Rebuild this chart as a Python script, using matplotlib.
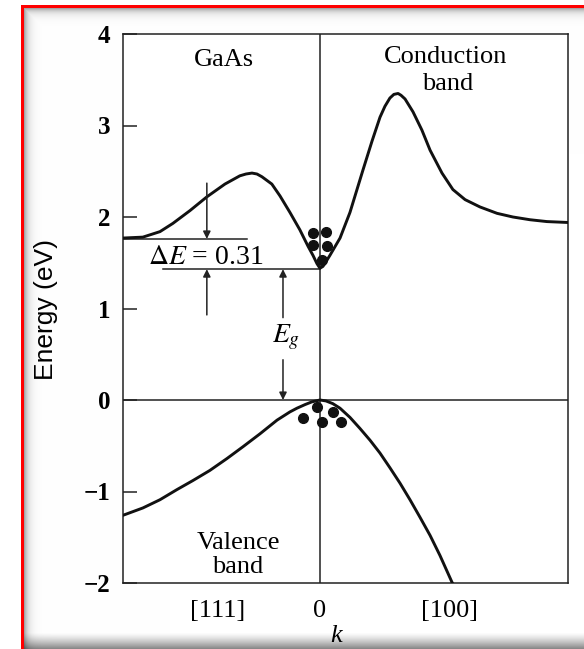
import numpy as np
import matplotlib
matplotlib.use("Agg")
import matplotlib.pyplot as plt

plt.rcParams['font.family'] = ['Liberation Serif', 'DejaVu Serif']
plt.rcParams['mathtext.fontset'] = 'stix'

# ---------------- data ----------------
# k in arbitrary units: left edge = [111] side, right edge = [100] side
cond_k = [-0.794, -0.714, -0.645, -0.593, -0.524, -0.456, -0.383, -0.323, -0.298,
          -0.274, -0.254, -0.234, -0.194, -0.161, -0.121, -0.081, -0.048, -0.028,
          -0.012, 0.0, 0.012,
          0.024, 0.040, 0.081, 0.121, 0.173, 0.210, 0.242, 0.262, 0.282, 0.298,
          0.315, 0.327, 0.343, 0.359,
          0.375, 0.411, 0.444, 0.492, 0.536, 0.585, 0.645, 0.714, 0.778, 0.847,
          0.915, 1.0]
cond_E = [1.77, 1.78, 1.84, 1.93, 2.07, 2.22, 2.36, 2.45, 2.47,
          2.48, 2.47, 2.44, 2.36, 2.23, 2.05, 1.86, 1.68, 1.58,
          1.49, 1.44, 1.46,
          1.51, 1.58, 1.77, 2.05, 2.51, 2.83, 3.09, 3.21, 3.30, 3.34,
          3.35, 3.33, 3.29, 3.22,
          3.15, 2.95, 2.73, 2.48, 2.30, 2.19, 2.11, 2.04, 2.00, 1.97,
          1.95, 1.94]

val_k = [-0.794, -0.714, -0.645, -0.577, -0.512, -0.444, -0.375, -0.310, -0.242,
         -0.173, -0.121, -0.093, -0.060, -0.032, 0.0,
         0.024, 0.052, 0.081, 0.121, 0.161, 0.202, 0.242, 0.282, 0.323, 0.363,
         0.403, 0.444, 0.484, 0.532, 0.544]
val_E = [-1.26, -1.18, -1.09, -0.98, -0.88, -0.77, -0.64, -0.51, -0.37,
         -0.22, -0.13, -0.09, -0.05, -0.02, 0.0,
         -0.01, -0.04, -0.09, -0.19, -0.31, -0.44, -0.58, -0.74, -0.91, -1.09,
         -1.28, -1.48, -1.70, -1.99, -2.05]

electron_k = [-0.028, 0.024, -0.028, 0.028, 0.008]
electron_E = [1.83, 1.84, 1.69, 1.68, 1.53]
hole_k = [-0.069, -0.012, 0.008, 0.052, 0.085]
hole_E = [-0.20, -0.08, -0.24, -0.13, -0.24]

E_gap = 1.43          # conduction band minimum at k = 0
E_L = 1.76            # side valley level
delta_E_text = r'$\Delta E$ = 0.31'

y_ticks = [4, 3, 2, 1, 0, -1, -2]
y_ticklabels = ['4', '3', '2', '1', '0', '\u22121', '\u22122']
x_ticks = [-0.411, 0.0, 0.524]
x_ticklabels = ['[111]', '0', '[100]']

# ---------------- figure ----------------
W, H = 584, 649
fig = plt.figure(figsize=(W / 100, H / 100), dpi=100)

# decorative frame (red border with soft shadow)
img = np.ones((H, W, 3))
xs = np.arange(W)
ys = np.arange(H)
shade_x = 1 - 0.35 * np.exp(-np.clip(xs - 24, 0, None) / 4.0)
shade_x[xs < 24] = 1
shade_y = 1 - 0.35 * np.exp(-np.clip(ys - 8, 0, None) / 4.0)
shade_y[ys < 8] = 1
bottom = np.ones(H)
bm = ys >= 632
bottom[bm] = 1 - 0.5 * ((ys[bm] - 632) / 17.0) ** 1.3
shade = np.minimum(shade_x[None, :], shade_y[:, None]) * bottom[:, None]
img *= shade[:, :, None]
img[:, :21, :] = 1.0
img[:5, :, :] = 1.0
img[5:8, 21:, :] = [1, 0, 0]
img[5:, 21:24, :] = [1, 0, 0]
bg = fig.add_axes([0, 0, 1, 1])
bg.imshow(img, aspect='auto', extent=(0, W, H, 0), interpolation='bilinear')
bg.axis('off')

ax = fig.add_axes([123 / W, 1 - 583 / H, 445 / W, 549 / H])
ax.set_xlim(-0.794, 1.0)
ax.set_ylim(-2, 4)

lc = '#111111'
ax.plot(cond_k, cond_E, color=lc, lw=2.1, solid_capstyle='round',
        solid_joinstyle='round', zorder=3)
ax.plot(val_k, val_E, color=lc, lw=2.1, solid_capstyle='round',
        solid_joinstyle='round', zorder=3)

# reference lines
ax.axhline(0, color='#222222', lw=1.1)
ax.axvline(0, color='#222222', lw=1.1)
ax.plot([-0.633, 0.0], [E_gap, E_gap], color='#222222', lw=1.1)
ax.plot([-0.794, -0.294], [E_L, E_L], color='#222222', lw=1.1)

# carriers
ax.plot(electron_k, electron_E, 'o', color='#111111', ms=7, zorder=4)
ax.plot(hole_k, hole_E, 'o', color='#111111', ms=7, zorder=4)

# arrows
ap = dict(arrowstyle='-|>', color='#222222', lw=1.1, mutation_scale=11,
          shrinkA=0, shrinkB=0)
ax.annotate('', xy=(-0.456, E_L), xytext=(-0.456, 2.37), arrowprops=ap)
ax.annotate('', xy=(-0.456, E_gap), xytext=(-0.456, 0.93), arrowprops=ap)
ax.annotate('', xy=(-0.149, E_gap), xytext=(-0.149, 0.90), arrowprops=ap)
ax.annotate('', xy=(-0.149, 0.0), xytext=(-0.149, 0.44), arrowprops=ap)

# text
ax.text(-0.46, 1.56, delta_E_text, ha='center', va='center', fontsize=20)
ax.text(-0.135, 0.68, r'$E_g$', ha='center', va='center', fontsize=20)
ax.text(-0.387, 3.72, 'GaAs', ha='center', va='center', fontsize=19)
ax.text(0.508, 3.75, 'Conduction', ha='center', va='center', fontsize=19)
ax.text(0.516, 3.45, 'band', ha='center', va='center', fontsize=19)
ax.text(-0.33, -1.56, 'Valence', ha='center', va='center', fontsize=19)
ax.text(-0.33, -1.83, 'band', ha='center', va='center', fontsize=19)

# axes styling
ax.set_yticks(y_ticks)
ax.set_yticklabels(y_ticklabels, fontsize=18, fontweight='bold')
ax.set_xticks(x_ticks)
ax.set_xticklabels(x_ticklabels, fontsize=19)
ax.tick_params(axis='y', direction='in', length=10, width=1.1, pad=9, color='#222222')
ax.tick_params(axis='x', length=0, pad=12)
for s in ax.spines.values():
    s.set_linewidth(1.1)
    s.set_color('#222222')

ax.set_ylabel('Energy (eV)', fontsize=19, va='center',
              family=['Liberation Sans Narrow', 'Liberation Sans', 'DejaVu Sans'])
ax.yaxis.set_label_coords(-(123 - 46) / 445, (583 - 310) / 549)
ax.set_xlabel('k', fontsize=19, style='italic', va='center')
ax.xaxis.set_label_coords((336 - 123) / 445, -(636 - 583) / 549)

fig.savefig('out.png', dpi=100)
